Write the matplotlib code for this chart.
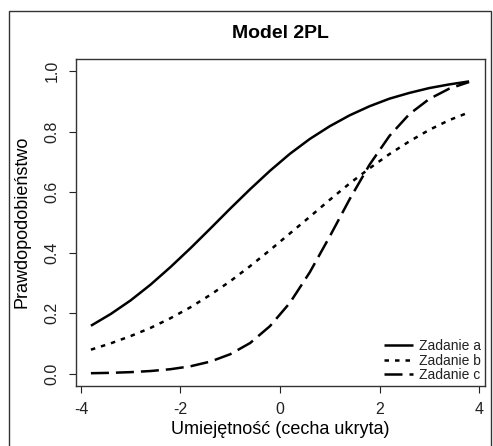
import matplotlib
matplotlib.use("Agg")
import matplotlib.pyplot as plt
from matplotlib.patches import Rectangle

plt.rcParams['font.family'] = ['Liberation Sans', 'DejaVu Sans']

theta = [-3.8, -3.4, -3.0, -2.6, -2.2, -1.8, -1.4, -1.0, -0.6, -0.2,
         0.2, 0.6, 1.0, 1.4, 1.8, 2.2, 2.6, 3.0, 3.4, 3.8]
p_a = [0.159, 0.198, 0.243, 0.295, 0.353, 0.415, 0.480, 0.546, 0.610, 0.671,
       0.727, 0.776, 0.818, 0.854, 0.884, 0.909, 0.928, 0.944, 0.956, 0.966]
p_b = [0.080, 0.101, 0.125, 0.152, 0.184, 0.220, 0.261, 0.306, 0.356, 0.409,
       0.464, 0.519, 0.575, 0.629, 0.679, 0.726, 0.768, 0.806, 0.838, 0.864]
p_c = [0.0022, 0.0035, 0.0058, 0.0095, 0.0155, 0.0251, 0.0406, 0.065, 0.102, 0.158,
       0.235, 0.336, 0.454, 0.577, 0.691, 0.786, 0.858, 0.908, 0.942, 0.964]
labels = ["Zadanie a", "Zadanie b", "Zadanie c"]
xticks = [-4, -2, 0, 2, 4]
yticks = [0.0, 0.2, 0.4, 0.6, 0.8, 1.0]

W, H = 493, 446
fig = plt.figure(figsize=(W / 100, H / 100), dpi=100)
ax = fig.add_axes([76 / W, 1 - 386 / H, (485 - 76) / W, (386 - 59) / H])

lw = 1.8
ax.plot(theta, p_a, color='black', lw=lw, solid_capstyle='butt', label=labels[0])
ax.plot(theta, p_b, color='black', lw=lw, linestyle=(0, (1.8, 2.4)), dash_capstyle='butt', label=labels[1])
ax.plot(theta, p_c, color='black', lw=lw, linestyle=(0, (7.2, 2.8)), dash_capstyle='butt', label=labels[2])

ax.set_xlim(-4.1, 4.12)
ax.set_ylim(-0.04, 1.04)
ax.set_xticks(xticks)
ax.set_xticklabels([f"{t:d}" for t in xticks])
ax.set_yticks(yticks)
ax.set_yticklabels([f"{t:.1f}" for t in yticks])
ax.tick_params(direction='out', length=5, width=0.8, labelsize=11.5, pad=6.5, colors='#222222')
ax.tick_params(axis='y', labelrotation=90, pad=7)
for lab in ax.get_yticklabels():
    lab.set_va('center')
for sp in ax.spines.values():
    sp.set_color('#333333')
    sp.set_linewidth(1.0)

leg = ax.legend(loc='lower right', frameon=False, fontsize=10, handlelength=2.1,
                handletextpad=0.4, labelspacing=0.02, borderaxespad=0.0,
                borderpad=0.3)
for t in leg.get_texts():
    t.set_color('#222222')

fig.text(280.5 / W, 1 - 33 / H, "Model 2PL", ha='center', va='center',
         fontsize=14, fontweight='bold')
fig.text(280.5 / W, 1 - 429 / H, "Umiejętność (cecha ukryta)", ha='center', va='center',
         fontsize=13)
fig.text(22 / W, 1 - 222 / H, "Prawdopodobieństwo", ha='center', va='center',
         fontsize=13, rotation=90)

fig.patches.append(Rectangle((9 / W, -0.05), (491 - 9) / W, 1.05 - 11 / H,
                             transform=fig.transFigure, fill=False,
                             edgecolor='#333333', linewidth=1.0))

fig.savefig("out.png", dpi=100)
